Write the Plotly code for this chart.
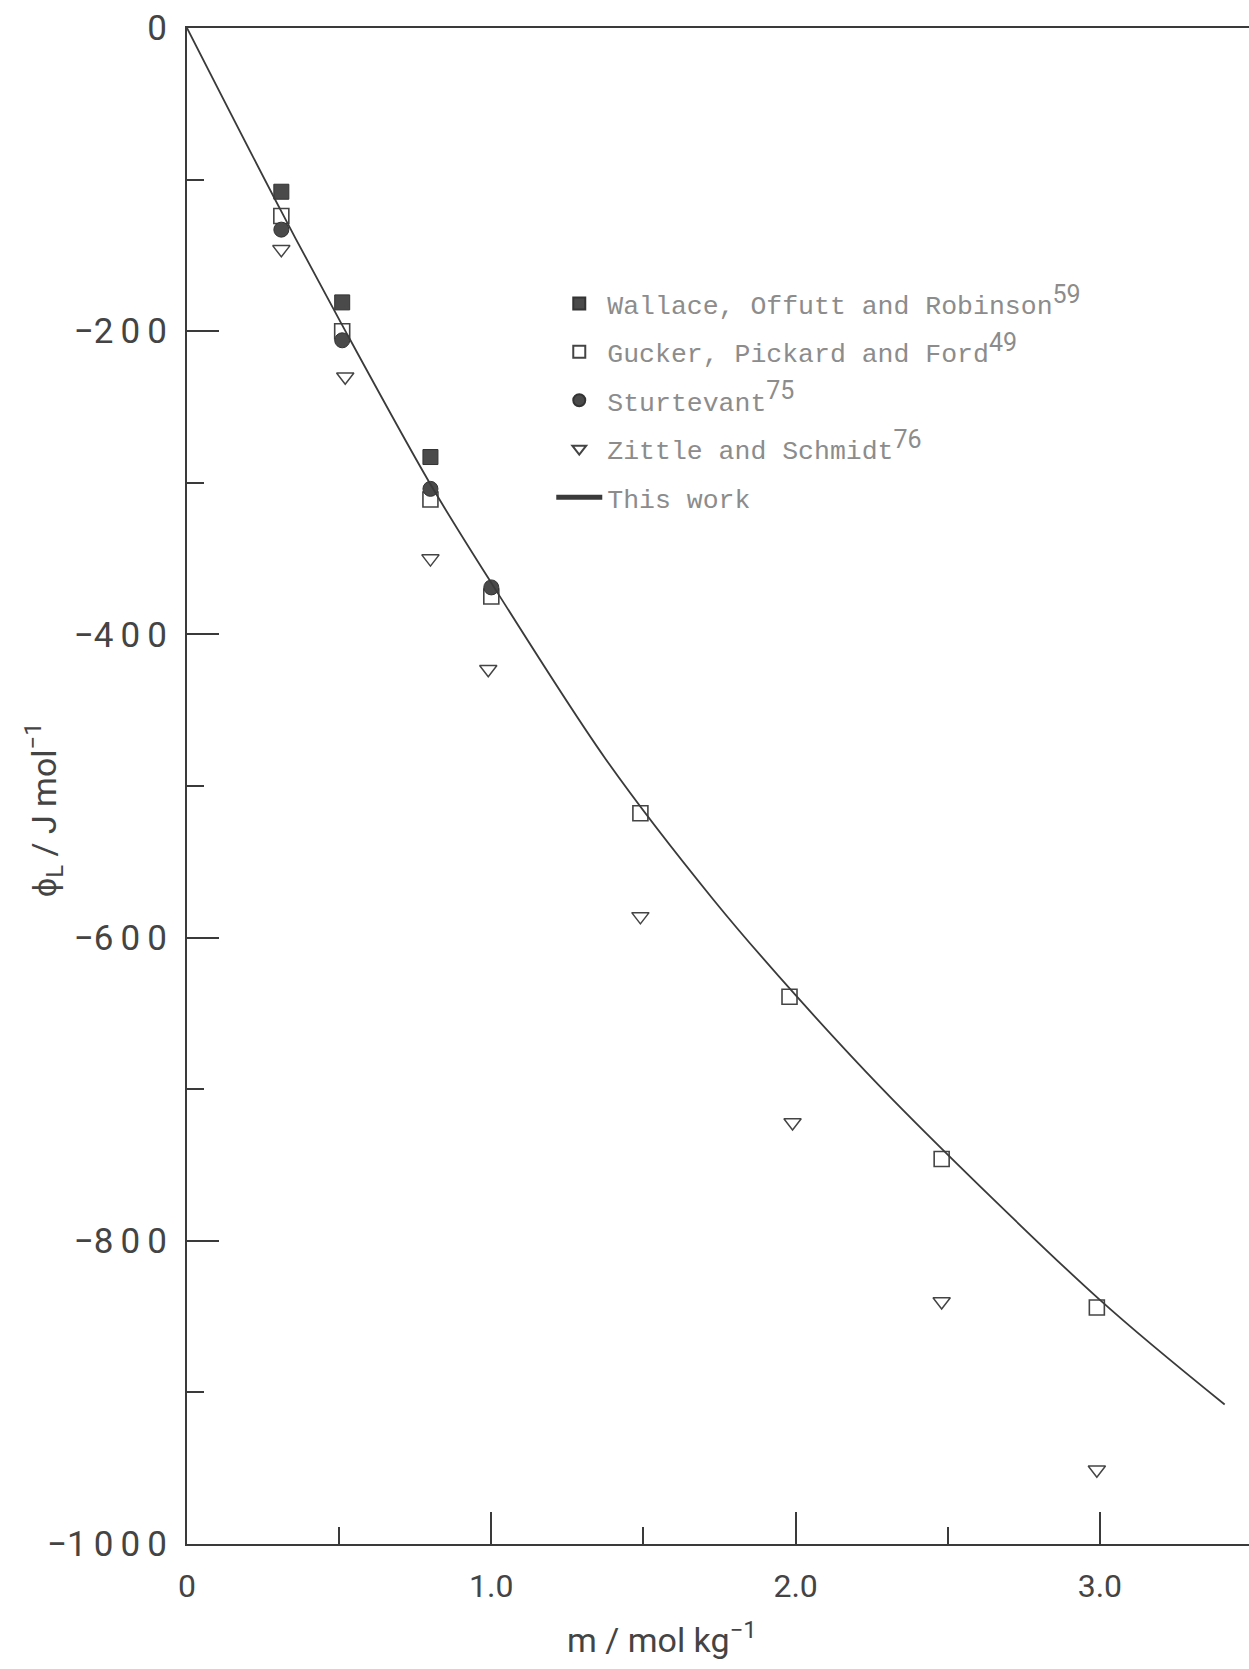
import plotly.graph_objects as go

# ---- data ----
m_wallace = [0.31, 0.51, 0.80]
phi_wallace = [-108, -181, -283]

m_gucker = [0.31, 0.51, 0.80, 1.00, 1.49, 1.98, 2.48, 2.99]
phi_gucker = [-124, -200, -311, -375, -518, -639, -746, -844]

m_sturtevant = [0.31, 0.51, 0.80, 1.00]
phi_sturtevant = [-133, -206, -304, -369]

m_zittle = [0.31, 0.52, 0.80, 0.99, 1.49, 1.99, 2.48, 2.99]
phi_zittle = [-146, -230, -350, -423, -586, -722, -840, -951]

m_curve = [0, 0.31, 0.51, 0.80, 1.00, 1.375, 1.73, 2.00, 2.32, 3.00, 3.41]
phi_curve = [0, -121, -196, -301, -366, -482, -575, -638, -707, -839, -908]


def sup(s):
    return '<sup><span style="font-family:Roboto;font-size:25px">' + s + '</span></sup>'


names = [
    'Wallace, Offutt and Robinson' + sup('59'),
    'Gucker, Pickard and Ford' + sup('49'),
    'Sturtevant' + sup('75'),
    'Zittle and Schmidt' + sup('76'),
    'This work',
]

y_tickvals = [0, -200, -400, -600, -800, -1000]
y_ticktext = ['0', '\u22122\u20090\u20090', '\u22124\u20090\u20090', '\u22126\u20090\u20090',
              '\u22128\u20090\u20090', '\u22121\u20090\u20090\u20090']
x_tickvals = [0, 1, 2, 3]
x_ticktext = ['0', '1.0', '2.0', '3.0']

DARK = '#3a3a3a'

fig = go.Figure()
fig.add_trace(go.Scatter(x=m_wallace, y=phi_wallace, mode='markers', name=names[0],
                         legendgroup='a',
                         marker=dict(symbol='square', size=15, color='#4a4a4a',
                                     line=dict(color='#333', width=1))))
fig.add_trace(go.Scatter(x=m_gucker, y=phi_gucker, mode='markers', name=names[1],
                         legendgroup='b',
                         marker=dict(symbol='square-open', size=15, color='#444',
                                     line=dict(width=1.6))))
fig.add_trace(go.Scatter(x=m_sturtevant, y=phi_sturtevant, mode='markers', name=names[2],
                         legendgroup='c',
                         marker=dict(symbol='circle', size=15, color='#4a4a4a',
                                     line=dict(color='#333', width=1))))
fig.add_trace(go.Scatter(x=m_zittle, y=phi_zittle, mode='markers', name=names[3],
                         legendgroup='d',
                         marker=dict(symbol='triangle-down-open', size=15, color='#444',
                                     line=dict(width=1.5))))
fig.add_trace(go.Scatter(x=m_curve, y=phi_curve, mode='lines', name=names[4],
                         legendgroup='e',
                         line=dict(color=DARK, width=1.8, shape='spline', smoothing=0.9)))

fig.update_layout(
    width=1249, height=1669,
    margin=dict(l=187, r=0, t=28, b=125),
    plot_bgcolor='white', paper_bgcolor='white',
    showlegend=True,
    legend=dict(x=0.343, y=0.834, xanchor='left', yanchor='top',
                bgcolor='rgba(0,0,0,0)', borderwidth=0,
                font=dict(family='Liberation Mono, Courier New, monospace', size=26.5, color='#8c8c8c'),
                itemwidth=46, tracegroupgap=11, itemsizing='constant'),
    xaxis=dict(range=[0, 3.49], showgrid=False, zeroline=False,
               showline=True, linecolor=DARK, linewidth=2, mirror=True,
               tickmode='array', tickvals=x_tickvals, ticktext=x_ticktext,
               ticks='inside', ticklen=32, tickwidth=1.5, tickcolor=DARK,
               minor=dict(tickmode='array', tickvals=[0.5, 1.5, 2.5], ticks='inside',
                          ticklen=17, tickwidth=1.5, tickcolor=DARK),
               ticklabelstandoff=13,
               tickfont=dict(family='Roboto, sans-serif', size=32, color='#444')),
    yaxis=dict(range=[-1000, 0], showgrid=False, zeroline=False,
               showline=True, linecolor=DARK, linewidth=2, mirror=False,
               tickmode='array', tickvals=y_tickvals, ticktext=y_ticktext,
               ticks='inside', ticklen=32, tickwidth=1.5, tickcolor=DARK,
               minor=dict(tickmode='array', tickvals=[-100, -300, -500, -700, -900],
                          ticks='inside', ticklen=17, tickwidth=1.5, tickcolor=DARK),
               ticklabelstandoff=11,
               tickfont=dict(family='Roboto, sans-serif', size=35, color='#444')),
    annotations=[
        dict(text='\u03d5<sub>L</sub>\u00a0/\u00a0J\u00a0mol<sup>\u22121</sup>',
             xref='paper', yref='paper', x=-0.135, y=0.484, xanchor='center', yanchor='middle',
             textangle=-90, showarrow=False,
             font=dict(family='Roboto, sans-serif', size=34, color='#444')),
        dict(text='m / mol kg<sup>\u22121</sup>',
             xref='paper', yref='paper', x=0.447, y=-0.062, xanchor='center', yanchor='middle',
             showarrow=False,
             font=dict(family='Roboto, sans-serif', size=34, color='#444')),
    ],
)

fig.write_html('out.html')
